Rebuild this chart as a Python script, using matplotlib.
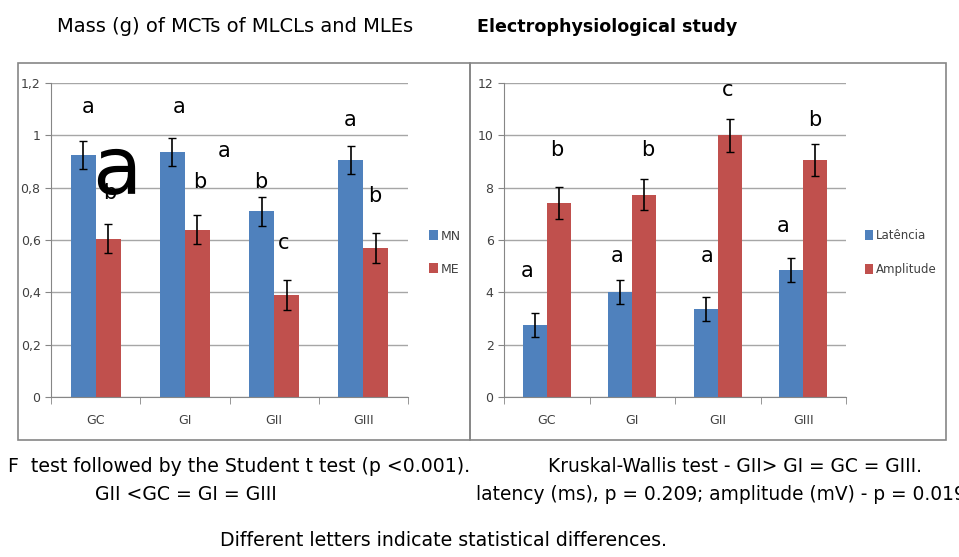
import numpy as np
import matplotlib
matplotlib.use("Agg")
from matplotlib import pyplot as plt
from matplotlib.patches import Rectangle

plt.rcParams['font.family'] = ['DejaVu Sans']

groups = ['GC', 'GI', 'GII', 'GIII']

# left chart - mass
mn = [0.925, 0.935, 0.71, 0.905]
mn_err = [0.055, 0.053, 0.055, 0.053]
me = [0.605, 0.64, 0.39, 0.57]
me_err = [0.055, 0.055, 0.058, 0.058]

# right chart - electrophysiology
lat = [2.75, 4.0, 3.35, 4.87]
lat_err = [0.47, 0.46, 0.46, 0.46]
amp = [7.42, 7.73, 10.0, 9.05]
amp_err = [0.6, 0.6, 0.62, 0.62]

# letters (x, y, text)
left_letters = [(-0.08, 1.11, 'a'), (0.93, 1.11, 'a'), (1.44, 0.94, 'a'),
                (1.17, 0.82, 'b'), (1.85, 0.82, 'b'), (2.11, 0.59, 'c'),
                (2.85, 1.06, 'a'), (3.13, 0.77, 'b'), (0.16, 0.78, 'b')]
right_letters = [(-0.23, 4.8, 'a'), (0.12, 9.45, 'b'), (0.82, 5.4, 'a'),
                 (1.18, 9.45, 'b'), (1.87, 5.4, 'a'), (2.12, 11.75, 'c'),
                 (2.76, 6.55, 'a'), (3.13, 10.6, 'b')]

blue = '#4F81BD'
red = '#C0504D'
grey = '#868686'

fig = plt.figure(figsize=(9.59, 5.57), dpi=100)

# outer frames
W, H = 959, 557
fig.patches.append(Rectangle((18 / W, 1 - 440 / H), (470 - 18) / W, (440 - 63) / H,
                             transform=fig.transFigure, fill=False, ec=grey, lw=1.2))
fig.patches.append(Rectangle((470 / W, 1 - 440 / H), (946 - 470) / W, (440 - 63) / H,
                             transform=fig.transFigure, fill=False, ec=grey, lw=1.2))

ax1 = fig.add_axes([51 / W, 1 - 397 / H, 357 / W, 314 / H])
ax2 = fig.add_axes([504 / W, 1 - 397 / H, 342 / W, 314 / H])

x = np.arange(len(groups))
w = 0.28


def style(ax, ymax, step, fmt):
    ax.set_xlim(-0.5, 3.5)
    ax.set_ylim(0, ymax)
    ticks = np.arange(0, ymax + step / 2, step)
    ax.set_yticks(ticks)
    ax.set_yticklabels([fmt(t) for t in ticks])
    ax.yaxis.grid(True, color='#A6A6A6', lw=1)
    ax.set_axisbelow(True)
    ax.set_xticks(x)
    ax.set_xticklabels(groups)
    ax.set_xticks([-0.5, 0.5, 1.5, 2.5, 3.5], minor=True)
    ax.tick_params(axis='x', which='major', length=0, pad=12, labelsize=9, labelcolor='#404040')
    ax.tick_params(axis='x', which='minor', length=5, color=grey)
    ax.tick_params(axis='y', length=4, color=grey, labelsize=9, labelcolor='#404040')
    for s in ['top', 'right']:
        ax.spines[s].set_visible(False)
    for s in ['left', 'bottom']:
        ax.spines[s].set_color(grey)


ax1.bar(x - w / 2, mn, w, color=blue, label='MN', zorder=2)
ax1.bar(x + w / 2, me, w, color=red, label='ME', zorder=2)
ax1.errorbar(x - w / 2, mn, yerr=mn_err, fmt='none', ecolor='black', capsize=3, lw=1.2, zorder=3)
ax1.errorbar(x + w / 2, me, yerr=me_err, fmt='none', ecolor='black', capsize=3, lw=1.2, zorder=3)
style(ax1, 1.2, 0.2, lambda t: '0' if t == 0 else ('1' if abs(t - 1) < 1e-9 else ('%.1f' % t).replace('.', ',')))
for lx, ly, t in left_letters:
    ax1.text(lx, ly, t, ha='center', va='center', fontsize=15, zorder=4)
ax1.text(0.24, 0.86, 'a', ha='center', va='center', fontsize=58, zorder=5)
ax1.legend(loc='center left', bbox_to_anchor=(1.028, 0.46), frameon=False,
           handlelength=0.7, handleheight=0.9, handletextpad=0.2, labelspacing=1.6,
           fontsize=9, labelcolor='#404040')

ax2.bar(x - w / 2, lat, w, color=blue, label='Latência', zorder=2)
ax2.bar(x + w / 2, amp, w, color=red, label='Amplitude', zorder=2)
ax2.errorbar(x - w / 2, lat, yerr=lat_err, fmt='none', ecolor='black', capsize=3, lw=1.2, zorder=3)
ax2.errorbar(x + w / 2, amp, yerr=amp_err, fmt='none', ecolor='black', capsize=3, lw=1.2, zorder=3)
style(ax2, 12, 2, lambda t: '%d' % t)
for lx, ly, t in right_letters:
    ax2.text(lx, ly, t, ha='center', va='center', fontsize=15, zorder=4)
ax2.legend(loc='center left', bbox_to_anchor=(1.024, 0.46), frameon=False,
           handlelength=0.7, handleheight=0.9, handletextpad=0.2, labelspacing=1.8,
           fontsize=8.5, labelcolor='#404040')

# titles and notes
fig.text(235 / W, 1 - 27 / H, 'Mass (g) of MCTs of MLCLs and MLEs', ha='center', va='center', fontsize=14)
fig.text(607 / W, 1 - 27 / H, 'Electrophysiological study', ha='center', va='center',
         fontsize=12.6, fontweight='bold')
fig.text(8 / W, 1 - 466 / H, 'F  test followed by the Student t test (p <0.001).', ha='left', va='center', fontsize=13.6)
fig.text(95 / W, 1 - 495 / H, 'GII <GC = GI = GIII', ha='left', va='center', fontsize=13.6)
fig.text(548 / W, 1 - 466 / H, 'Kruskal-Wallis test - GII> GI = GC = GIII.', ha='left', va='center', fontsize=13.4)
fig.text(476 / W, 1 - 495 / H, 'latency (ms), p = 0.209; amplitude (mV) - p = 0.019', ha='left', va='center', fontsize=13.4)
fig.text(443 / W, 1 - 541 / H, 'Different letters indicate statistical differences.', ha='center', va='center', fontsize=13.6)

fig.savefig('out.png', dpi=100)
